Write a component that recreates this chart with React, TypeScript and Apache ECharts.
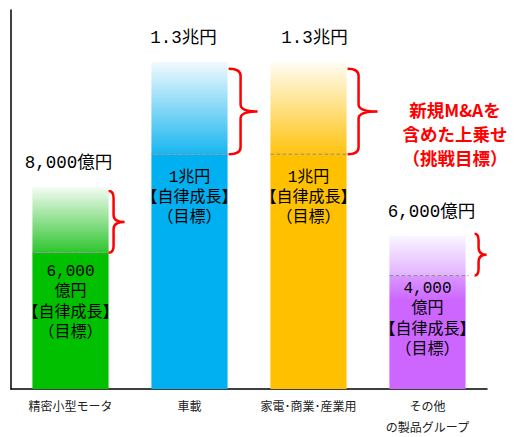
import React, { useEffect, useRef } from "react";
import * as echarts from "echarts";

// Categories (x axis)
const categories = ["精密小型モータ", "車載", "家電･商業･産業用", "その他\nの製品グループ"];
// Bar heights as drawn in the picture (schematic units, plot height = 381)
const baseHeights = [137, 236, 236, 114]; // 自律成長 (solid part)
const totalHeights = [203, 329, 329, 154]; // incl. 新規M&A (gradient part)
// Label texts
const totalLabels = ["8,000億円", "1.3兆円", "1.3兆円", "6,000億円"];
const baseLabels = [
  "6,000\n億円\n【自律成長】\n（目標）",
  "1兆円\n【自律成長】\n（目標）",
  "1兆円\n【自律成長】\n（目標）",
  "4,000\n億円\n【自律成長】\n（目標）",
];
const noteLines = ["新規M&Aを", "含めた上乗せ", "（挑戦目標）"];

const barColors = ["#00C000", "#00B0F0", "#FFC000", "#CC66FF"];
const gradTop = ["#F4FCF4", "#F2FAFE", "#FFFDF5", "#FAF6FF"];
const gradBottom = ["#2EC52E", "#19B6F0", "#FFC310", "#E2B2FF"];

const MONO = "'Liberation Mono', 'Noto Sans CJK JP', sans-serif";
const CJK = "'Noto Sans CJK JP', sans-serif";

// brace geometry per category (px): start offset from bar right, vertical x offset, tip x offset, top inset
const braceGeom = [
  { start: 0, vert: 5, tip: 16, topInset: 4 },
  { start: 1, vert: 13, tip: 30, topInset: 7 },
  { start: 1, vert: 12, tip: 31, topInset: 7 },
  { start: 9, vert: 13, tip: 21, topInset: -2 },
];
const baseLabelStyle = [
  { distance: 9, lineHeight: 20.5 },
  { distance: 14, lineHeight: 20 },
  { distance: 14, lineHeight: 20 },
  { distance: 3, lineHeight: 20.5 },
];
const topLabelOffset = [-2, -6, 6, 4];

export default function App() {
  const ref = useRef<HTMLDivElement>(null);
  useEffect(() => {
    if (!ref.current) return;
    const chart = echarts.init(ref.current, undefined, { renderer: "svg" });
    const upperValues = totalHeights.map((t, i) => t - baseHeights[i]);

    const baseColor = (i: number) =>
      i === 3
        ? new echarts.graphic.LinearGradient(0, 0, 0, 1, [
            { offset: 0, color: "#DA98FF" },
            { offset: 0.22, color: barColors[i] },
            { offset: 1, color: barColors[i] },
          ])
        : barColors[i];

    const option: any = {
      animation: false,
      backgroundColor: "#ffffff",
      grid: { left: 11, right: 31, top: 10, bottom: 46, containLabel: false },
      xAxis: {
        type: "category",
        data: categories,
        axisLine: { show: true, lineStyle: { color: "#000", width: 1.5 } },
        axisTick: { show: false },
        axisLabel: {
          color: "#222",
          fontSize: 12,
          fontFamily: CJK,
          lineHeight: 21,
          margin: 6,
          interval: 0,
        },
      },
      yAxis: {
        type: "value",
        min: 0,
        max: 381,
        axisLine: { show: true, lineStyle: { color: "#000", width: 1.5 } },
        axisTick: { show: false },
        axisLabel: { show: false },
        splitLine: { show: false },
      },
      series: [
        {
          type: "bar",
          stack: "a",
          barWidth: "64%",
          data: baseHeights.map((v, i) => ({
            value: v,
            itemStyle: { color: baseColor(i) },
            label: {
              distance: baseLabelStyle[i].distance,
              lineHeight: baseLabelStyle[i].lineHeight,
            },
          })),
          label: {
            show: true,
            position: "insideTop",
            color: "#000",
            fontSize: 16,
            fontFamily: MONO,
            formatter: (p: any) => baseLabels[p.dataIndex],
          },
        },
        {
          type: "bar",
          stack: "a",
          barWidth: "64%",
          data: upperValues.map((v, i) => ({
            value: v,
            itemStyle: {
              color: new echarts.graphic.LinearGradient(0, 0, 0, 1, [
                { offset: 0, color: gradTop[i] },
                { offset: 1, color: gradBottom[i] },
              ]),
            },
            label: { offset: [topLabelOffset[i], 0] },
          })),
          label: {
            show: true,
            position: "top",
            distance: 15,
            color: "#000",
            fontSize: 17.5,
            fontFamily: MONO,
            formatter: (p: any) => totalLabels[p.dataIndex],
          },
        },
        {
          type: "custom",
          z: 10,
          data: baseHeights.map((b, i) => [i, b, totalHeights[i]]),
          encode: { x: 0, y: [1, 2] },
          renderItem: (params: any, api: any) => {
            const i = api.value(0);
            const base = api.value(1);
            const total = api.value(2);
            const pBase = api.coord([i, base]);
            const pTop = api.coord([i, total]);
            const band = api.size([1, 0])[0];
            const half = band * 0.32;
            const left = pBase[0] - half;
            const right = pBase[0] + half;
            const g = braceGeom[i];
            const x0 = right + g.start;
            const xv = right + g.vert;
            const xt = right + g.tip;
            const top = pTop[1] + g.topInset;
            const bot = pBase[1];
            const mid = (top + bot) / 2;
            const r = Math.min(7, (bot - top) / 5);
            const d =
              `M ${x0} ${top} Q ${xv} ${top} ${xv} ${top + r} ` +
              `L ${xv} ${mid - r} Q ${xv} ${mid} ${xt} ${mid} ` +
              `Q ${xv} ${mid} ${xv} ${mid + r} L ${xv} ${bot - r} ` +
              `Q ${xv} ${bot} ${x0} ${bot}`;
            return {
              type: "group",
              children: [
                {
                  type: "line",
                  shape: { x1: left, y1: bot, x2: right + (i === 3 ? 3 : 0), y2: bot },
                  style: { stroke: "#8c8c8c", lineWidth: 1, lineDash: [4, 2] },
                },
                {
                  type: "path",
                  shape: { pathData: d },
                  style: { stroke: "#FF0000", lineWidth: 2.5, fill: "none" },
                },
              ],
            };
          },
        },
      ],
      graphic: noteLines.map((t, k) => ({
        type: "text",
        x: 455,
        y: 109 + k * 24,
        style: {
          text: t,
          fill: "#FF0000",
          fontSize: 17.5,
          fontWeight: "bold",
          fontFamily: CJK,
          textAlign: "center",
          textVerticalAlign: "middle",
        },
      })),
    };
    chart.setOption(option);
    return () => chart.dispose();
  }, []);
  return (
    <div
      ref={ref}
      style={{ position: "fixed", left: 0, top: 0, width: 518, height: 437 }}
    />
  );
}
